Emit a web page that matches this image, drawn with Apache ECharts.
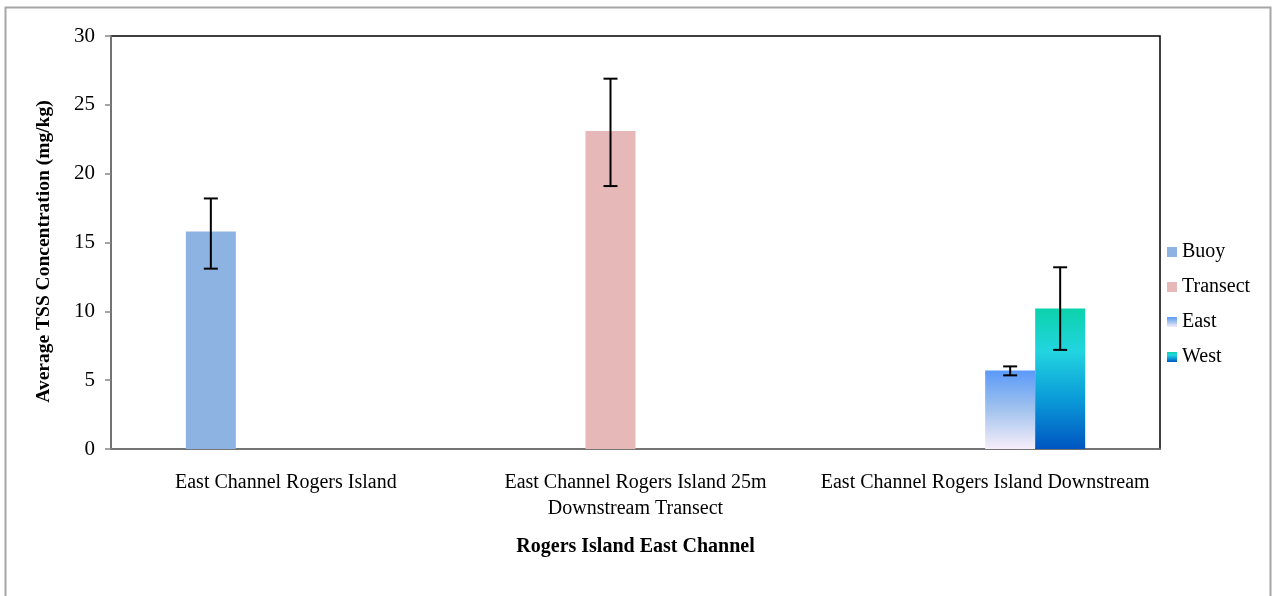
<!DOCTYPE html>
<html>
<head>
<meta charset="utf-8">
<script src="https://cdn.jsdelivr.net/npm/echarts@6/dist/echarts.min.js"></script>
<style>
html,body{margin:0;padding:0;background:#fff;}
#c{width:1273px;height:596px;}
</style>
</head>
<body>
<div id="c"></div>
<script>
var categories = ['East Channel Rogers Island', 'East Channel Rogers Island 25m\nDownstream Transect', 'East Channel Rogers Island Downstream'];
var seriesNames = ['Buoy', 'Transect', 'East', 'West'];
var buoy = [15.8, '-', '-'];
var transect = ['-', 23.1, '-'];
var east = ['-', '-', 5.7];
var west = ['-', '-', 10.2];
var errLow = [13.1, 19.1, 5.35, 7.2];
var errHigh = [18.2, 26.9, 6.0, 13.2];
var errCategory = [0, 1, 2, 2];
var yTicks = [0, 5, 10, 15, 20, 25, 30];

var FONT = 'Liberation Serif';
var chart = echarts.init(document.getElementById('c'), null, {renderer: 'canvas'});

var errData = errLow.map(function (lo, i) { return [errCategory[i], lo, errHigh[i], i]; });
var BAR_W = 50;

var option = {
  animation: false,
  backgroundColor: '#fff',
  graphic: [{
    type: 'rect', shape: {x: 5.5, y: 7.5, width: 1265, height: 600},
    style: {fill: 'none', stroke: '#a6a6a6', lineWidth: 2}, silent: true
  }],
  grid: {left: 111, top: 36, right: 113, bottom: 147, show: true, borderColor: '#000', borderWidth: 1.5, backgroundColor: 'transparent'},
  legend: {
    orient: 'vertical', left: 1162, top: 237,
    icon: 'rect',
    itemWidth: 10, itemHeight: 10, itemGap: 15,
    textStyle: {fontFamily: FONT, fontSize: 20, color: '#000', padding: [0, 0, 0, 0]},
    data: seriesNames
  },
  xAxis: {
    type: 'category', data: categories,
    name: 'Rogers Island East Channel', nameLocation: 'middle', nameGap: 88,
    nameTextStyle: {fontFamily: FONT, fontSize: 20, fontWeight: 'bold', color: '#000'},
    axisLine: {lineStyle: {color: '#868686', width: 1.5}},
    axisTick: {show: false},
    axisLabel: {fontFamily: FONT, fontSize: 20, color: '#000', margin: 21, lineHeight: 26, interval: 0}
  },
  yAxis: {
    type: 'value', min: 0, max: 30, interval: 5,
    name: 'Average TSS Concentration (mg/kg)', nameLocation: 'middle', nameGap: 57,
    nameTextStyle: {fontFamily: FONT, fontSize: 19.5, fontWeight: 'bold', color: '#000', padding: [0, 18, 0, 0]},
    axisLine: {show: true, lineStyle: {color: '#868686', width: 1.5}},
    axisTick: {show: true, length: 6, lineStyle: {color: '#868686', width: 1.5}},
    axisLabel: {fontFamily: FONT, fontSize: 21, color: '#000', margin: 16,
      formatter: function (v) { return yTicks.indexOf(v) >= 0 ? String(v) : ''; }},
    splitLine: {show: false}
  },
  series: [
    {name: 'Buoy', type: 'bar', data: buoy, barWidth: BAR_W, barGap: '0%', itemStyle: {color: '#8db3e2'}},
    {name: 'Transect', type: 'bar', data: transect, barWidth: BAR_W, barGap: '0%', itemStyle: {color: '#e6b9b8'}},
    {name: 'East', type: 'bar', data: east, barWidth: BAR_W, barGap: '0%', itemStyle: {color: new echarts.graphic.LinearGradient(0, 0, 0, 1, [
      {offset: 0, color: '#5b9af8'}, {offset: 0.5, color: '#a2c3ee'}, {offset: 1, color: '#f7eefa'}])}},
    {name: 'West', type: 'bar', data: west, barWidth: BAR_W, barGap: '0%', itemStyle: {color: new echarts.graphic.LinearGradient(0, 0, 0, 1, [
      {offset: 0, color: '#0bd2ab'}, {offset: 0.3, color: '#22d5e0'}, {offset: 0.65, color: '#0a9ad8'}, {offset: 1, color: '#0055c0'}])}},
    {
      type: 'custom', name: 'err', data: errData, z: 10, silent: true,
      encode: {x: 0, y: [1, 2]},
      renderItem: function (params, api) {
        var cat = api.value(0), slot = api.value(3);
        var lo = api.coord([cat, api.value(1)]);
        var hi = api.coord([cat, api.value(2)]);
        var off = (slot - 1.5) * BAR_W;
        var x = lo[0] + off;
        var cap = 7;
        var st = {stroke: '#000', lineWidth: 2};
        return {type: 'group', children: [
          {type: 'line', shape: {x1: x, y1: lo[1], x2: x, y2: hi[1]}, style: st},
          {type: 'line', shape: {x1: x - cap, y1: lo[1], x2: x + cap, y2: lo[1]}, style: st},
          {type: 'line', shape: {x1: x - cap, y1: hi[1], x2: x + cap, y2: hi[1]}, style: st}
        ]};
      }
    }
  ]
};
chart.setOption(option);
</script>
</body>
</html>
